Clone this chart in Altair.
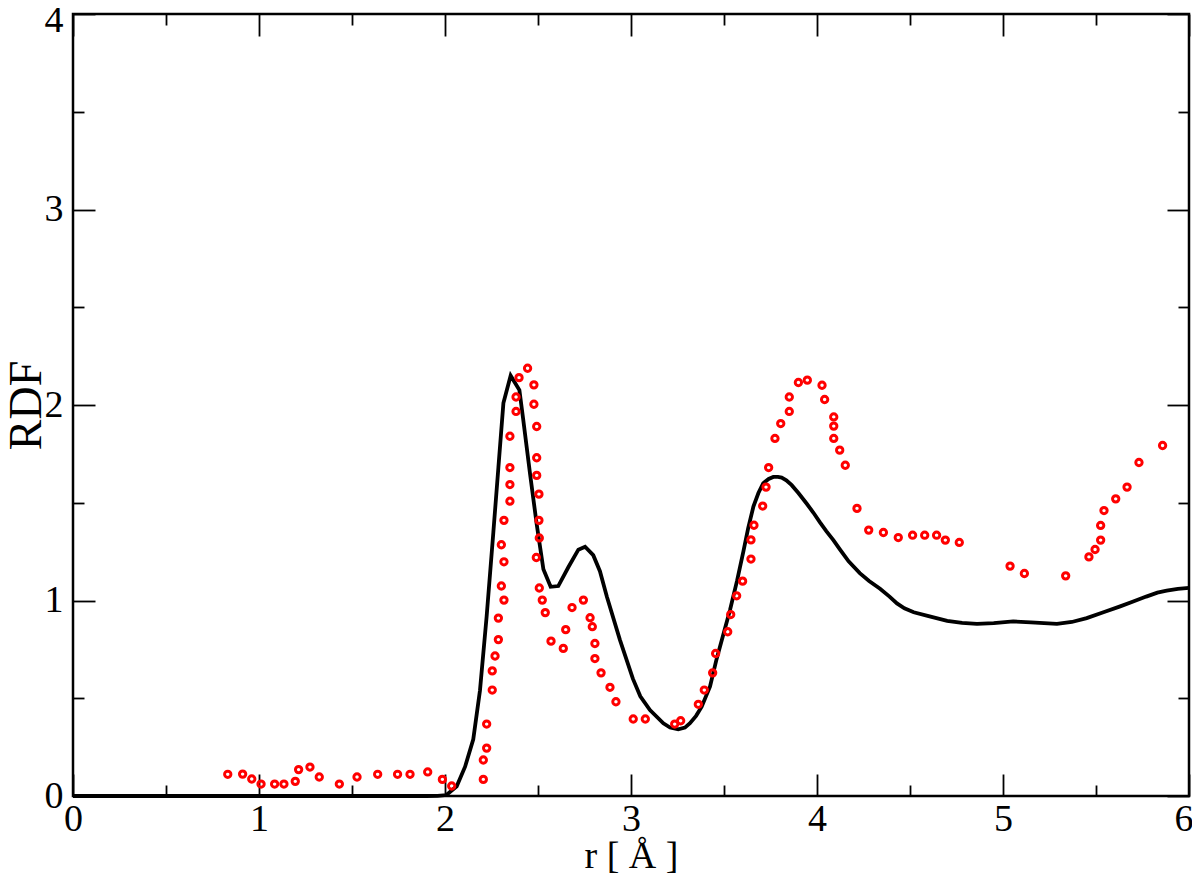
import altair as alt
import pandas as pd

# Simulated RDF (black line)
r_line = [0.0, 1.9, 1.96, 2.008, 2.063,
          2.108, 2.152, 2.188, 2.224, 2.26,
          2.287, 2.314, 2.353, 2.40, 2.42,
          2.457, 2.493, 2.529, 2.568, 2.609,
          2.663, 2.717, 2.753, 2.797, 2.833,
          2.87, 2.94, 3.01, 3.05, 3.102,
          3.174, 3.21, 3.254, 3.29, 3.317,
          3.35, 3.38, 3.425, 3.46, 3.532,
          3.57, 3.604, 3.63, 3.658, 3.685,
          3.711, 3.74, 3.765, 3.79, 3.81,
          3.835, 3.864, 3.9, 3.944, 3.98,
          4.016, 4.05, 4.088, 4.124, 4.17,
          4.23, 4.28, 4.339, 4.39, 4.43,
          4.47, 4.52, 4.6, 4.70, 4.78,
          4.86, 4.95, 5.055, 5.15, 5.29,
          5.37, 5.45, 5.54, 5.63, 5.70,
          5.77, 5.83, 5.88, 5.94, 6.0]
g_line = [0.0, 0.0, 0.001, 0.005, 0.05,
          0.15, 0.29, 0.54, 0.92, 1.35,
          1.68, 2.01, 2.15, 2.076, 1.93,
          1.65, 1.39, 1.16, 1.07, 1.074,
          1.17, 1.26, 1.275, 1.232, 1.15,
          1.02, 0.80, 0.60, 0.51, 0.44,
          0.372, 0.35, 0.341, 0.35, 0.372,
          0.41, 0.457, 0.56, 0.70, 0.95,
          1.10, 1.25, 1.37, 1.48, 1.55,
          1.60, 1.622, 1.632, 1.632, 1.629,
          1.615, 1.59, 1.55, 1.496, 1.45,
          1.40, 1.355, 1.309, 1.26, 1.20,
          1.14, 1.10, 1.06, 1.02, 0.985,
          0.96, 0.94, 0.92, 0.896, 0.885,
          0.88, 0.884, 0.893, 0.888, 0.88,
          0.89, 0.91, 0.94, 0.97, 0.995,
          1.02, 1.04, 1.05, 1.06, 1.065]

# Experimental RDF (red open circles)
r_exp = [0.832, 0.912, 0.961, 1.011, 1.084, 1.134, 1.195, 1.213, 1.274, 1.324,
         1.432, 1.527, 1.638, 1.745, 1.812, 1.907, 1.986, 2.036,
         2.206, 2.206, 2.224, 2.224, 2.254, 2.254, 2.269, 2.287, 2.287, 2.317,
         2.303, 2.317, 2.303, 2.317, 2.349, 2.349, 2.349, 2.349, 2.382, 2.382,
         2.398, 2.444, 2.478, 2.478, 2.493, 2.493, 2.493, 2.505, 2.505, 2.507,
         2.491, 2.507, 2.523, 2.539, 2.57, 2.636, 2.649, 2.683, 2.744, 2.78,
         2.792, 2.806, 2.806, 2.839, 2.887, 2.919, 3.012, 3.077, 3.235, 3.267,
         3.362, 3.394, 3.439, 3.455, 3.52, 3.536, 3.568, 3.60, 3.645, 3.645,
         3.661, 3.708, 3.726, 3.74, 3.774, 3.805, 3.851, 3.851, 3.90, 3.948,
         4.027, 4.041, 4.09, 4.09, 4.09, 4.122, 4.152, 4.215, 4.278, 4.357,
         4.437, 4.514, 4.579, 4.643, 4.69, 4.765, 5.038, 5.115, 5.337, 5.462,
         5.495, 5.525, 5.525, 5.543, 5.606, 5.667, 5.731, 5.858]
g_exp = [0.111, 0.112, 0.087, 0.061, 0.061, 0.061, 0.075, 0.135, 0.148, 0.097,
         0.061, 0.097, 0.111, 0.111, 0.111, 0.123, 0.085, 0.051,
         0.085, 0.184, 0.245, 0.368, 0.542, 0.64, 0.716, 0.80, 0.91, 1.002,
         1.074, 1.198, 1.285, 1.41, 1.508, 1.593, 1.68, 1.84, 1.967, 2.041,
         2.14, 2.188, 2.103, 2.004, 1.89, 1.73, 1.64, 1.544, 1.41, 1.32,
         1.22, 1.064, 1.002, 0.938, 0.792, 0.755, 0.851, 0.964, 1.002, 0.912,
         0.866, 0.78, 0.703, 0.63, 0.556, 0.482, 0.394, 0.394, 0.368, 0.385,
         0.469, 0.542, 0.63, 0.729, 0.84, 0.928, 1.024, 1.099, 1.212, 1.31,
         1.385, 1.483, 1.58, 1.68, 1.829, 1.905, 1.967, 2.041, 2.115, 2.127,
         2.101, 2.028, 1.939, 1.892, 1.829, 1.769, 1.692, 1.471, 1.36, 1.348,
         1.322, 1.334, 1.334, 1.334, 1.309, 1.297, 1.176, 1.138, 1.126, 1.223,
         1.261, 1.309, 1.384, 1.46, 1.52, 1.58, 1.706, 1.793]

x_major = [0, 1, 2, 3, 4, 5, 6]
x_minor = [0.5, 1.5, 2.5, 3.5, 4.5, 5.5]
y_major = [0, 1, 2, 3, 4]
y_minor = [0.5, 1.5, 2.5, 3.5]

line_df = pd.DataFrame({"r": r_line, "g": g_line})
exp_df = pd.DataFrame({"r": r_exp, "g": g_exp})

FONT = "Liberation Serif"
MAJ = 22
MIN = 11

xs = alt.Scale(domain=[0, 6], nice=False, zero=False)
ys = alt.Scale(domain=[0, 4], nice=False, zero=False)


def ax(orient, values, size, labels=False, title=None, **kw):
    d = dict(orient=orient, values=values, tickSize=size, offset=-size, domain=False,
             grid=False, labels=labels, tickColor="black", tickWidth=1.8, ticks=True,
             title=title)
    d.update(kw)
    return alt.Axis(**d)


lab = dict(labelFont=FONT, labelFontSize=38, labelColor="black", labelFlush=False)

line = alt.Chart(line_df).mark_line(color="black", strokeWidth=3.8).encode(
    x=alt.X("r:Q", scale=xs,
            axis=ax("bottom", x_major, MAJ, labels=True, title="r [ Å ]",
                    labelPadding=4, titleFont=FONT, titleFontSize=38,
                    labelAlign=alt.expr("datum.value == 6 ? 'right' : 'center'"),
                    labelOffset=alt.expr("datum.value == 6 ? 4 : 0"),
                    titleFontWeight="normal", titleColor="black", titlePadding=-1, **lab)),
    y=alt.Y("g:Q", scale=ys,
            axis=ax("left", y_major, MAJ, labels=True, title="RDF",
                    labelPadding=10, titleFont=FONT, titleFontSize=46,
                    labelOffset=alt.expr("datum.value == 4 ? 6 : 0"),
                    titleFontWeight="normal", titleColor="black", titlePadding=-6, **lab)),
)

points = alt.Chart(exp_df).mark_point(
    shape="circle", filled=False, color="#ff0000", size=40, strokeWidth=3, opacity=1
).encode(
    x=alt.X("r:Q", scale=xs, axis=ax("bottom", x_minor, MIN)),
    y=alt.Y("g:Q", scale=ys, axis=ax("left", y_minor, MIN)),
)

top_major = alt.Chart(line_df).mark_line(opacity=0).encode(
    x=alt.X("r:Q", scale=xs, axis=ax("top", x_major, MAJ)),
    y=alt.Y("g:Q", scale=ys, axis=ax("right", y_major, MAJ)),
)

top_minor = alt.Chart(line_df).mark_line(opacity=0).encode(
    x=alt.X("r:Q", scale=xs, axis=ax("top", x_minor, MIN)),
    y=alt.Y("g:Q", scale=ys, axis=ax("right", y_minor, MIN)),
)

chart = (
    alt.layer(line, points, top_major, top_minor)
    .resolve_axis(x="independent", y="independent")
    .properties(
        width=1116, height=782,
        autosize=alt.AutoSizeParams(type="none"),
        padding={"left": 65, "top": 6, "right": 3, "bottom": 79},
        background="white",
    )
    .configure_view(stroke="black", strokeWidth=2.5)
)

chart.save("out.html", embed_options={"renderer": "svg", "actions": False})
